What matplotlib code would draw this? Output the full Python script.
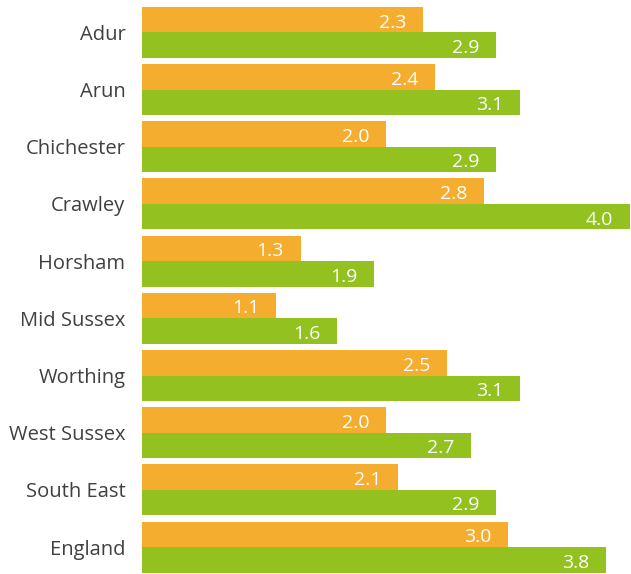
import numpy as np
import matplotlib.pyplot as plt

plt.rcParams['font.family'] = ['Open Sans', 'DejaVu Sans']

areas = ['Adur', 'Arun', 'Chichester', 'Crawley', 'Horsham', 'Mid Sussex',
         'Worthing', 'West Sussex', 'South East', 'England']
orange_vals = [2.3, 2.4, 2.0, 2.8, 1.3, 1.1, 2.5, 2.0, 2.1, 3.0]
green_vals = [2.9, 3.1, 2.9, 4.0, 1.9, 1.6, 3.1, 2.7, 2.9, 3.8]

orange = '#F5AD2F'
green = '#93C11F'

fig = plt.figure(figsize=(6.31, 5.74), dpi=100)
ax = fig.add_axes([142 / 631, 0, 488 / 631, 1])

y = np.arange(len(areas))
h = 0.446
b1 = ax.barh(y - h / 2, orange_vals, height=h, color=orange)
b2 = ax.barh(y + h / 2, green_vals, height=h, color=green)

for bars, vals in ((b1, orange_vals), (b2, green_vals)):
    for bar, v in zip(bars, vals):
        ax.annotate(f'{v:.1f}', (v, bar.get_y() + bar.get_height() / 2),
                    xytext=(-12, -2), textcoords='offset points',
                    ha='right', va='center', color='white', fontsize=14)

ax.set_xlim(0, 4.0)
ax.set_ylim(9.472, -0.568)
ax.set_yticks(y)
ax.set_yticklabels(areas, fontsize=14.5, color='#404040')
ax.tick_params(axis='y', length=0, pad=12)
ax.set_xticks([])
for s in ax.spines.values():
    s.set_visible(False)

fig.savefig('out.png', dpi=100)
